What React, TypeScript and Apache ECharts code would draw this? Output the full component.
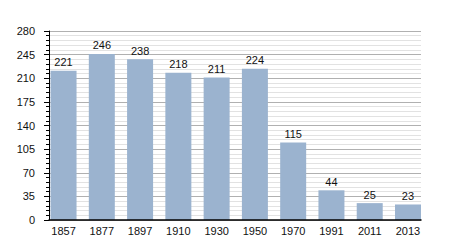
import React, { useEffect, useRef } from "react";
import * as echarts from "echarts";

const years = ["1857", "1877", "1897", "1910", "1930", "1950", "1970", "1991", "2011", "2013"];
const population = [221, 246, 238, 218, 211, 224, 115, 44, 25, 23];
const yTicks = [0, 35, 70, 105, 140, 175, 210, 245, 280];

export default function App() {
  const ref = useRef<HTMLDivElement>(null);
  useEffect(() => {
    if (!ref.current) return;
    const chart = echarts.init(ref.current, null, { renderer: "svg" });
    const font = "Liberation Sans";
    chart.setOption({
      animation: false,
      backgroundColor: "#ffffff",
      grid: { left: 49, right: 29, top: 31, bottom: 30, containLabel: false },
      xAxis: {
        type: "value",
        min: -0.38,
        max: 9.34,
        z: 10,
        axisLine: { show: true, onZero: true, lineStyle: { color: "#000", width: 1.5 } },
        axisTick: { show: false },
        splitLine: { show: false },
        axisLabel: {
          customValues: years.map((_, i) => i),
          formatter: (v: number) => years[Math.round(v)] ?? "",
          color: "#111",
          fontFamily: font,
          fontSize: 11,
          margin: 5,
        },
      },
      yAxis: {
        type: "value",
        min: yTicks[0],
        max: yTicks[yTicks.length - 1],
        interval: 35,
        axisLine: { show: true, onZero: false, lineStyle: { color: "#000", width: 1 } },
        axisTick: { show: true, length: 5, lineStyle: { color: "#000" } },
        minorTick: { show: true, splitNumber: 5, length: 3, lineStyle: { color: "#000" } },
        splitLine: { show: true, lineStyle: { color: "#b0b0b0", width: 1 } },
        minorSplitLine: { show: true, lineStyle: { color: "#e2e2e2", width: 1 } },
        axisLabel: { color: "#111", fontFamily: font, fontSize: 11, margin: 14 },
      },
      series: [
        {
          type: "bar",
          barWidth: 26,
          data: population.map((v, i) => [i, v]),
          itemStyle: { color: "#9bb3cf" },
          label: {
            show: true,
            position: "top",
            distance: 3,
            formatter: (p: any) => String(p.value[1]),
            color: "#111",
            fontFamily: font,
            fontSize: 11,
          },
          z: 3,
        },
      ],
    });
    return () => chart.dispose();
  }, []);
  return <div ref={ref} style={{ position: "fixed", left: 0, top: 0, width: 450, height: 250 }} />;
}
